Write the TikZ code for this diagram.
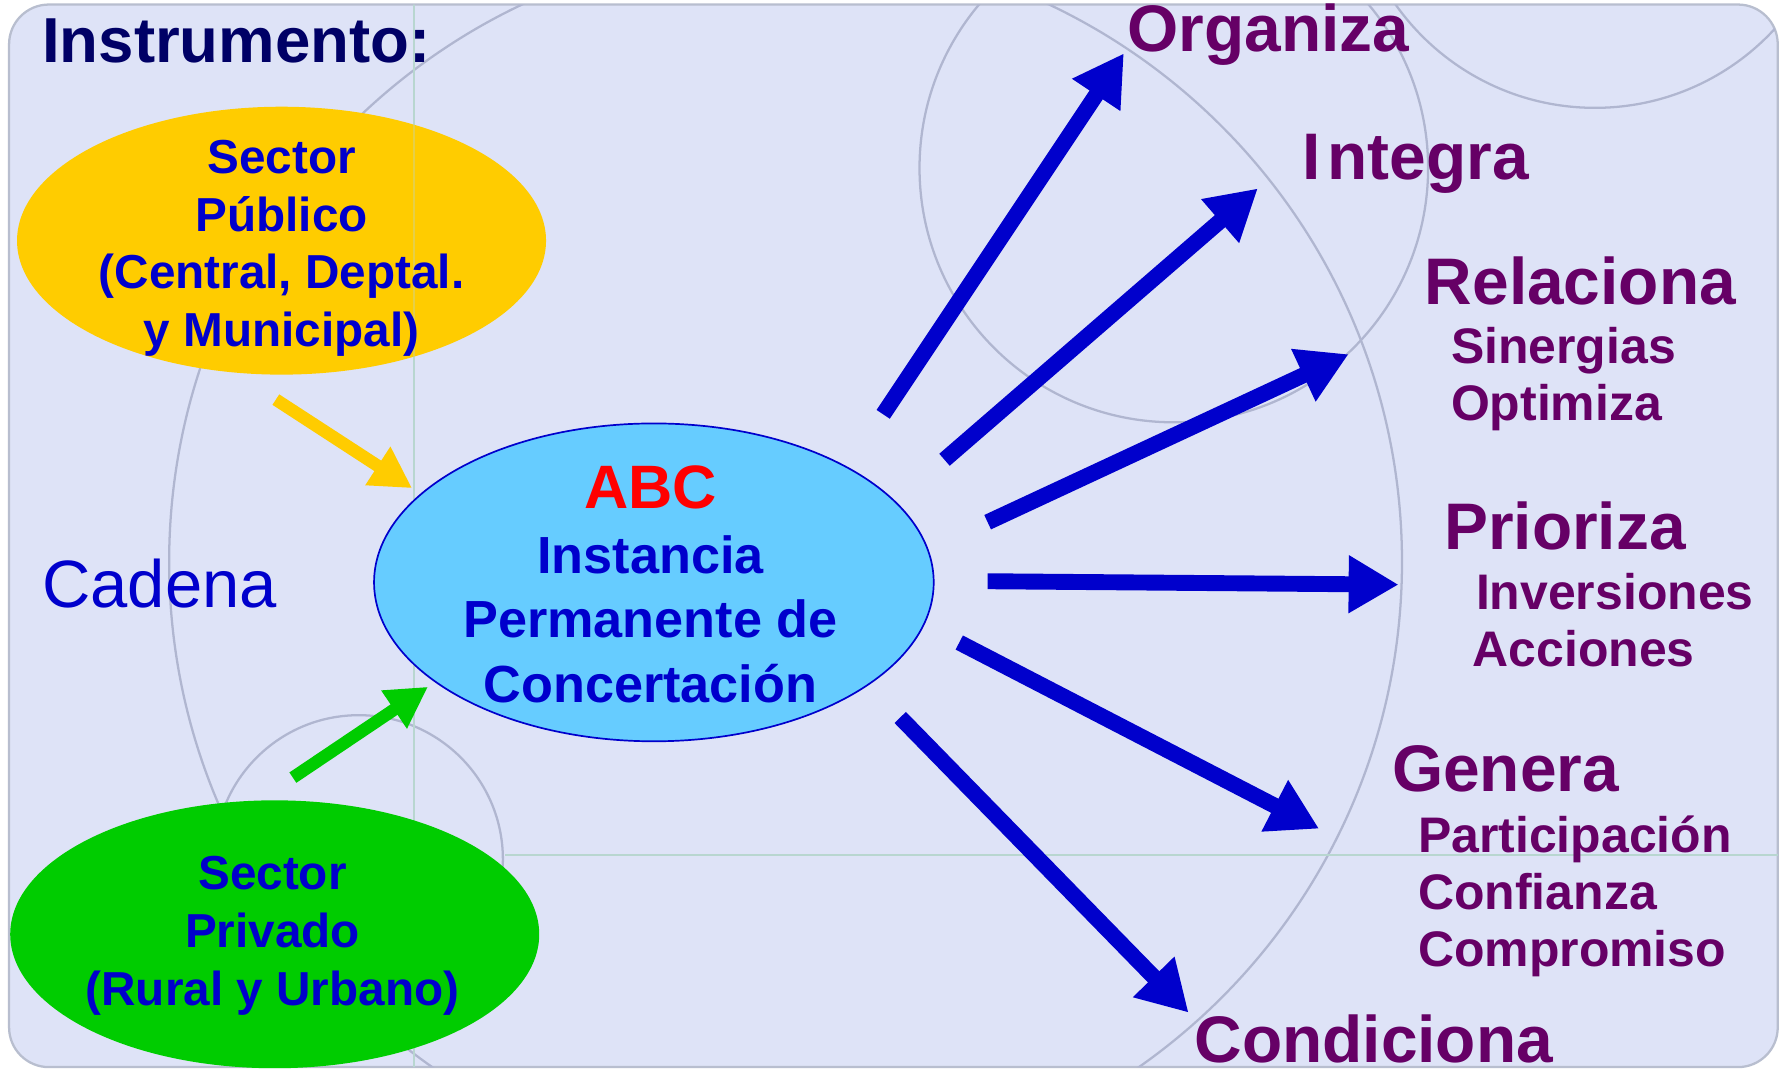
\documentclass[tikz,border=0pt]{standalone}
\usepackage{fontspec}
\setmainfont{Liberation Sans}
\usetikzlibrary{arrows.meta,shapes.geometric}
\definecolor{bg}{HTML}{DEE3F7}
\definecolor{frame}{HTML}{B8BECF}
\definecolor{deco}{HTML}{B0B6D0}
\definecolor{gline}{HTML}{B8D6D0}
\definecolor{gold}{HTML}{FFCC00}
\definecolor{lgreen}{HTML}{00CC00}
\definecolor{skyblue}{HTML}{66CCFF}
\definecolor{tblue}{HTML}{0000CC}
\definecolor{purp}{HTML}{660066}
\definecolor{navy}{HTML}{000066}
\begin{document}
\begin{tikzpicture}[x=1pt,y=-1pt,
  decocircle/.style={draw=deco,line width=2pt},
  gridline/.style={draw=gline,line width=2pt},
  blob/.style={ellipse,inner sep=0pt,draw=none},
  btext/.style={text=tblue,align=center,inner sep=0pt,font=\bfseries\fontsize{42}{51}\selectfont},
  verb/.style={text=purp,anchor=base west,inner sep=0pt,font=\bfseries\fontsize{58}{60}\selectfont},
  sub/.style={text=purp,anchor=base west,inner sep=0pt,font=\bfseries\fontsize{44}{50}\selectfont},
  barrow/.style={draw=tblue,line width=14pt,-{Triangle[length=44pt,width=48pt]}},
  sarrow/.style={line width=11pt,-{Triangle[length=36pt,width=38pt]}}]
\useasboundingbox (0,0) rectangle (1568,943);
\fill[white] (0,0) rectangle (1568,943);
\path[fill=bg,draw=frame,line width=2pt,rounded corners=35pt] (8,4) rectangle (1566,940);
\begin{scope}
\clip[rounded corners=35pt] (8,4) rectangle (1566,940);
\draw[decocircle] (692,495) circle[radius=543];
\draw[decocircle] (1034,148) circle[radius=224];
\draw[decocircle] (1405,-120) circle[radius=215];
\draw[decocircle] (316,757) circle[radius=127];
\draw[gridline] (365,0) -- (365,943);
\draw[gridline] (445,753) -- (1568,753);
\end{scope}

% ellipses
\node[blob,fill=gold,minimum width=466pt,minimum height=236pt] (pub) at (248,212) {};
\node[blob,fill=lgreen,minimum width=466pt,minimum height=236pt] (priv) at (242,823) {};
\node[blob,fill=skyblue,draw=tblue,line width=1.5pt,minimum width=493pt,minimum height=280pt] (abc) at (576,513) {};
\draw[gline,line width=2pt,opacity=0.35] (365,100) -- (365,322);

\node[btext,anchor=north] (pubt) at (248,123) {Sector\\Público\\(Central, Deptal.\\y Municipal)};
\node[btext,anchor=north] (privt) at (240,754) {Sector\\Privado\\(Rural y Urbano)};
\node[btext,anchor=north,font=\bfseries\fontsize{46}{57}\selectfont] (abct) at (573,410)
  {{\color{red}\fontsize{54}{57}\selectfont ABC}\\Instancia\\Permanente de\\Concertación};

\node[anchor=base west,inner sep=0pt,text=navy,font=\bfseries\fontsize{56}{58}\selectfont] (instr) at (37,55) {Instrumento:};
\node[anchor=base west,inner sep=0pt,text=tblue,font=\fontsize{59}{62}\selectfont] (cad) at (37,535) {Cadena};

% right labels
\node[verb] (org) at (993,45) {Organiza};
\node[verb] (integ) at (1147,158) {I\kern6pt ntegra};
\node[verb] (rel) at (1255,268) {Relaciona};
\node[sub] (sin) at (1278,320) {Sinergias};
\node[sub] (opt) at (1278,370) {Optimiza};
\node[verb] (prio) at (1272,484) {Prioriza};
\node[sub] (inv) at (1300,537) {Inversiones};
\node[sub] (acc) at (1297,587) {Acciones};
\node[verb] (gen) at (1226,697) {Genera};
\node[sub] (part) at (1249,751) {Participación};
\node[sub] (conf) at (1249,801) {Confianza};
\node[sub] (comp) at (1249,851) {Compromiso};
\node[verb] (cond) at (1052,936) {Condiciona};

% arrow end points
\coordinate (s1) at (778,365); \coordinate (e1) at (990,47);
\coordinate (s2) at (832,405); \coordinate (e2) at (1108,166);
\coordinate (s3) at (870,460); \coordinate (e3) at (1188,312);
\coordinate (s4) at (870,512); \coordinate (e4) at (1232,515);
\coordinate (s5) at (845,566); \coordinate (e5) at (1162,730);
\coordinate (s6) at (793,632); \coordinate (e6) at (1047,892);
\coordinate (ys) at (243,352); \coordinate (ye) at (363,430);
\coordinate (gs) at (258,685); \coordinate (ge) at (377,605);

\draw[barrow] (s1) -- (e1);
\draw[barrow] (s2) -- (e2);
\draw[barrow] (s3) -- (e3);
\draw[barrow] (s4) -- (e4);
\draw[barrow] (s5) -- (e5);
\draw[barrow] (s6) -- (e6);
\draw[sarrow,draw=gold] (ys) -- (ye);
\draw[sarrow,draw=lgreen] (gs) -- (ge);
\end{tikzpicture}
\end{document}
